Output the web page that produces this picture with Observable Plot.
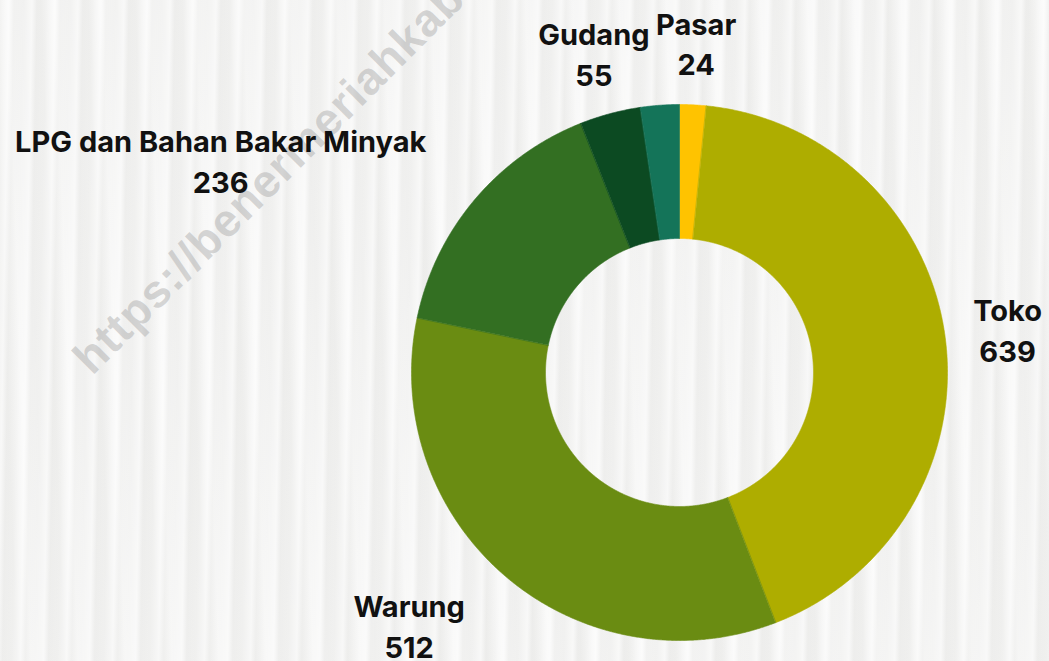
<!DOCTYPE html>
<html>
<head>
<meta charset="utf-8">
<script src="https://cdn.jsdelivr.net/npm/d3@7"></script>
<script src="https://cdn.jsdelivr.net/npm/@observablehq/plot@0.6"></script>
<style>
  html, body { margin: 0; padding: 0; background: #f2f2f1; }
  #wrap { position: relative; width: 1049px; height: 661px; overflow: hidden;
          background:
            repeating-linear-gradient(91deg, rgba(255,255,255,0) 0px, rgba(255,255,255,0.55) 9px, rgba(228,228,226,0.22) 14px, rgba(255,255,255,0) 23px),
            repeating-linear-gradient(88deg, rgba(255,255,255,0) 0px, rgba(236,236,234,0.35) 17px, rgba(255,255,255,0.5) 31px, rgba(255,255,255,0) 47px),
            #f1f1f0; }
  #wm { position: absolute; left: 100px; top: 330px; font: bold 46px "Liberation Sans", sans-serif;
        color: rgba(160,160,160,0.42); transform: rotate(-45deg); transform-origin: left bottom;
        white-space: nowrap; letter-spacing: 1px; }
  #chart { position: absolute; left: 0; top: 0; }
</style>
</head>
<body>
<div id="wrap">
  <div id="wm">https://benermeriahkab.go.id</div>
  <div id="chart"></div>
</div>
<script>
// ---- data ----
const categories = ["Pasar", "Toko", "Warung", "LPG dan Bahan Bakar Minyak", "Gudang", "Lainnya"];
const values = [24, 639, 512, 236, 55, 35];
const colors = ["#FFC300", "#AEAD00", "#6A8C12", "#336F22", "#0C4A22", "#147459"];
const hiddenLabels = ["Lainnya"];

// ---- layout ----
const W = 1049, H = 661;
const cx = 679, cy = 372, rOuter = 268, rInner = 134;
const labelR = 1.235;
const fontFamily = "Inter, 'Liberation Sans', sans-serif";
const fontSize = 29;

const rows = categories.map((c, i) => ({cat: c, value: values[i]}));
const arcs = d3.pie().sort(null).value(d => d.value)(rows);

const inner = rInner / rOuter;
const pts = [];
for (const a of arcs) {
  const n = Math.max(4, Math.ceil((a.endAngle - a.startAngle) / 0.005));
  for (let k = 0; k <= n; k++) {
    const t = a.startAngle + (a.endAngle - a.startAngle) * k / n;
    pts.push({cat: a.data.cat, x: Math.sin(t), y: Math.cos(t)});
  }
  for (let k = n; k >= 0; k--) {
    const t = a.startAngle + (a.endAngle - a.startAngle) * k / n;
    pts.push({cat: a.data.cat, x: inner * Math.sin(t), y: inner * Math.cos(t)});
  }
}

const ctx = document.createElement("canvas").getContext("2d");
ctx.font = `bold ${fontSize}px ${fontFamily}`;
const labels = arcs.filter(a => !hiddenLabels.includes(a.data.cat)).map(a => {
  const m = (a.startAngle + a.endAngle) / 2;
  const s = Math.sin(m), c = Math.cos(m);
  const w = Math.max(ctx.measureText(a.data.cat).width, ctx.measureText(String(a.data.value)).width);
  const shift = s < -0.5 ? -(w / 2) / rOuter : 0;
  return {text: `${a.data.cat}\n${a.data.value}`, x: labelR * s + shift, y: labelR * c};
});

const plot = Plot.plot({
  width: W, height: H, margin: 0,
  style: {background: "transparent", overflow: "visible"},
  x: {domain: [-1, 1], range: [cx - rOuter, cx + rOuter], axis: null},
  y: {domain: [-1, 1], range: [cy + rOuter, cy - rOuter], axis: null},
  color: {domain: categories, range: colors},
  marks: [
    Plot.line(pts, {x: "x", y: "y", z: "cat", fill: "cat", stroke: "cat", strokeWidth: 0.6, curve: "linear-closed"}),
    Plot.text(labels, {x: "x", y: "y", text: "text", fontSize, fontWeight: "bold", fontFamily,
      fill: "#111", lineHeight: 1.41, lineAnchor: "middle", textAnchor: "middle"})
  ]
});
document.getElementById("chart").append(plot);
</script>
</body>
</html>
